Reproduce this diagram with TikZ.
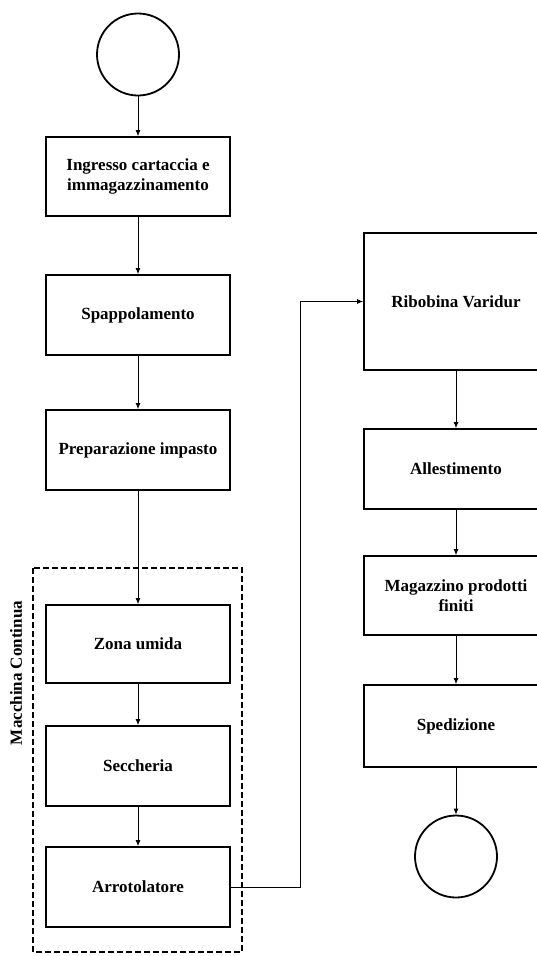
\documentclass[tikz,border=0pt]{standalone}
\usepackage{fontspec}
\setmainfont{Liberation Serif}
\usetikzlibrary{arrows.meta}
\begin{document}
\begin{tikzpicture}[x=1pt,y=-1pt,
  proc/.style={draw, line width=1.8pt, minimum width=184pt, align=center,
    font=\fontsize{17}{20}\selectfont\bfseries, inner sep=2pt},
  term/.style={draw, circle, line width=1.8pt, minimum size=82pt, inner sep=0pt},
  flow/.style={line width=0.8pt, -{Latex[length=6pt,width=5pt]}},
  group/.style={draw, line width=1.8pt, dash pattern=on 6pt off 3pt}]
\useasboundingbox (0,0) rectangle (537,956);
\clip (0,0) rectangle (537,956);
\node[term] (start) at (138,54.5) {};
\node[proc, minimum height=79pt] (b1) at (138,176.5) {Ingresso cartaccia e\\immagazzinamento};
\node[proc, minimum height=80pt] (b2) at (138,315) {Spappolamento};
\node[proc, minimum height=80pt] (b3) at (138,450) {Preparazione impasto};
\draw[group] (33,568) rectangle (242,952);
\node[rotate=90, font=\fontsize{17}{20}\selectfont\bfseries] (lbl) at (16,673) {Macchina Continua};
\node[proc, minimum height=78pt] (b4) at (138,644) {Zona umida};
\node[proc, minimum height=80pt] (b5) at (138,766) {Seccheria};
\node[proc, minimum height=80pt] (b6) at (138,887) {Arrotolatore};
\node[proc, minimum height=137pt] (r1) at (456,301.5) {Ribobina Varidur};
\node[proc, minimum height=80pt] (r2) at (456,469) {Allestimento};
\node[proc, minimum height=79pt] (r3) at (456,595.5) {Magazzino prodotti\\finiti};
\node[proc, minimum height=82pt] (r4) at (456,726) {Spedizione};
\node[term] (stop) at (456,856.5) {};
\coordinate (c1) at (300,887);
\coordinate (c2) at (300,301.5);
\draw[flow] (start) -- (b1);
\draw[flow] (b1) -- (b2);
\draw[flow] (b2) -- (b3);
\draw[flow] (b3) -- (b4);
\draw[flow] (b4) -- (b5);
\draw[flow] (b5) -- (b6);
\draw[flow] (b6.east) -- (c1) -- (c2) -- (r1.west);
\draw[flow] (r1) -- (r2);
\draw[flow] (r2) -- (r3);
\draw[flow] (r3) -- (r4);
\draw[flow] (r4) -- (stop);
\end{tikzpicture}
\end{document}
